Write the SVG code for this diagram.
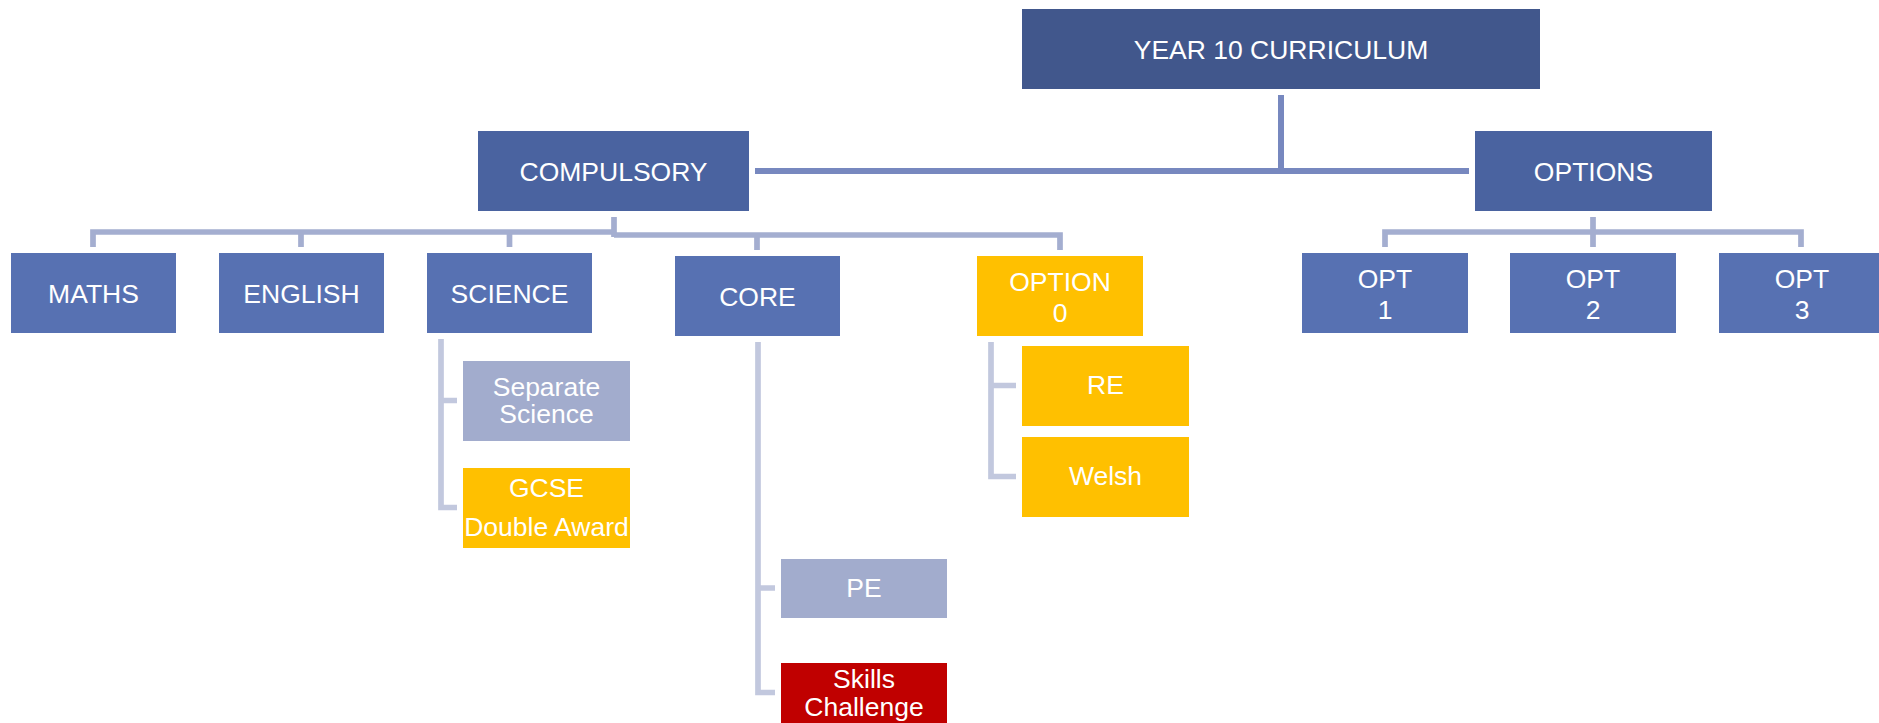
<svg xmlns="http://www.w3.org/2000/svg" width="1879" height="723" viewBox="0 0 1879 723">
<style>
text{font-family:"Liberation Sans",Arial,sans-serif;font-size:26.5px;fill:#fff;text-anchor:middle}
.top{fill:#41578C}.l1{fill:#4A63A0}.l2{fill:#5771B2}.lt{fill:#A2ACCD}.yl{fill:#FFC000}.rd{fill:#C00000}
.c0{fill:none;stroke:#7788BF;stroke-width:6}
.c1{fill:none;stroke:#A4AED0;stroke-width:5.7}
.c2{fill:none;stroke:#C2C8DE;stroke-width:5.7}
</style>
<g id="connectors">
<path class="c0" d="M1281 95V171M755 171H1469"/>
<path class="c1" d="M614 217V237M93 247V232H614M301 232V247M509.5 232V247M614 235H1060V250M757 235V250"/>
<path class="c1" d="M1593 217V232M1385 247V232H1801V247M1593 232V247"/>
<path class="c2" d="M441 339V507.5H457M441 400.5H457"/>
<path class="c2" d="M758 342V692.5H775M758 588H775"/>
<path class="c2" d="M991 342V476.5H1016M991 385.5H1016"/>
</g>
<g id="year10"><rect class="top" x="1022" y="9" width="518" height="80"/><text x="1281" y="59">YEAR 10 CURRICULUM</text></g>
<g id="compulsory"><rect class="l1" x="478" y="131" width="271" height="80"/><text x="613.5" y="181">COMPULSORY</text></g>
<g id="options"><rect class="l1" x="1475" y="131" width="237" height="80"/><text x="1593.5" y="181">OPTIONS</text></g>
<g id="maths"><rect class="l2" x="11" y="253" width="165" height="80"/><text x="93.5" y="303">MATHS</text></g>
<g id="english"><rect class="l2" x="219" y="253" width="165" height="80"/><text x="301.5" y="303">ENGLISH</text></g>
<g id="science"><rect class="l2" x="427" y="253" width="165" height="80"/><text x="509.5" y="303">SCIENCE</text></g>
<g id="core"><rect class="l2" x="675" y="256" width="165" height="80"/><text x="757.5" y="306">CORE</text></g>
<g id="option0"><rect class="yl" x="977" y="256" width="166" height="80"/><text x="1060" y="291">OPTION</text><text x="1060" y="321.5">0</text></g>
<g id="opt1"><rect class="l2" x="1302" y="253" width="166" height="80"/><text x="1385" y="287.5">OPT</text><text x="1385" y="318.5">1</text></g>
<g id="opt2"><rect class="l2" x="1510" y="253" width="166" height="80"/><text x="1593" y="287.5">OPT</text><text x="1593" y="318.5">2</text></g>
<g id="opt3"><rect class="l2" x="1719" y="253" width="166" height="80"/><text x="1802" y="287.5">OPT</text><text x="1802" y="318.5">3</text></g>
<g id="separate"><rect class="lt" x="463" y="361" width="167" height="80"/><text x="546.5" y="395.5">Separate</text><text x="546.5" y="422.5">Science</text></g>
<g id="gcse"><rect class="yl" x="463" y="468" width="167" height="80"/><text x="546.5" y="496.5">GCSE</text><text x="546.5" y="535.5">Double Award</text></g>
<g id="pe"><rect class="lt" x="781" y="559" width="166" height="59"/><text x="864" y="597">PE</text></g>
<g id="skills"><rect class="rd" x="781" y="663" width="166" height="62"/><text x="864" y="687.5">Skills</text><text x="864" y="715.5">Challenge</text></g>
<g id="re"><rect class="yl" x="1022" y="346" width="167" height="80"/><text x="1105.5" y="394">RE</text></g>
<g id="welsh"><rect class="yl" x="1022" y="437" width="167" height="80"/><text x="1105.5" y="485">Welsh</text></g>
</svg>
